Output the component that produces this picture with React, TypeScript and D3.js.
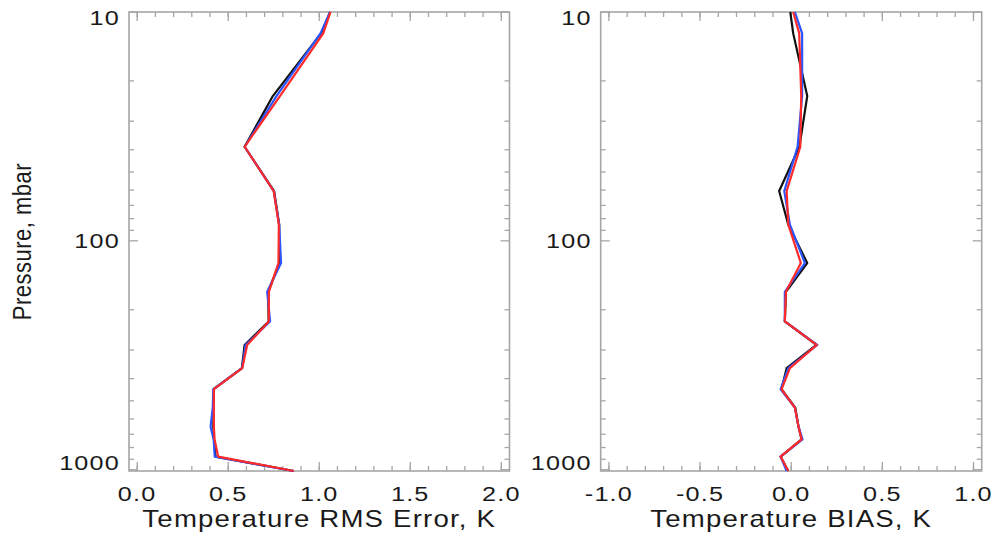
import React from "react";
import * as d3 from "d3";

// Pressure levels (mbar) of the retrieval profiles
const levels = [10, 12.4, 23.3, 38.8, 60.6, 85, 125, 167, 225, 285, 360, 445, 535, 648, 737, 877, 1013];

// Temperature RMS error (K)
const rmsBlack = [1.06, 1.01, 0.745, 0.59, 0.752, 0.78, 0.78, 0.72, 0.722, 0.59, 0.575, 0.42, 0.42, 0.418, 0.422, 0.43, 0.86];
const rmsBlue = [1.06, 1.007, 0.765, 0.59, 0.75, 0.78, 0.79, 0.714, 0.73, 0.595, 0.577, 0.418, 0.415, 0.403, 0.42, 0.426, 0.86];
const rmsRed = [1.062, 1.022, 0.784, 0.59, 0.75, 0.778, 0.776, 0.723, 0.723, 0.604, 0.577, 0.421, 0.421, 0.421, 0.425, 0.445, 0.86];

// Temperature bias (K)
const biasBlack = [-0.005, 0.011, 0.088, 0.045, -0.066, -0.016, 0.088, -0.029, -0.035, 0.138, -0.025, -0.053, 0.022, 0.04, 0.057, -0.058, -0.016];
const biasBlue = [0.02, 0.06, 0.06, 0.035, -0.038, -0.007, 0.075, -0.035, -0.035, 0.143, -0.016, -0.058, 0.02, 0.04, 0.062, -0.058, -0.025];
const biasRed = [0.011, 0.044, 0.055, 0.05, -0.025, -0.016, 0.053, -0.029, -0.035, 0.14, -0.007, -0.053, 0.02, 0.04, 0.057, -0.058, -0.016];

const rmsTicks = ["0.0", "0.5", "1.0", "1.5", "2.0"];
const biasTicks = ["-1.0", "-0.5", "0.0", "0.5", "1.0"];
const pressureTicks = ["10", "100", "1000"];

const seriesColors = ["#111111", "#2a55ff", "#ff2a2a"];

const W = 996;
const H = 534;
const TOP = 12;
const BOTTOM = 471;
const FONT = "'Liberation Sans', Arial, Helvetica, sans-serif";
const AXIS = "#a6a6a6";
const STRETCH = 1.2;

const y = d3.scaleLog().domain([10, 1013]).range([TOP, BOTTOM]);

function Label(props: { x: number; y: number; text: string; anchor: string; size: number; spacing: number; rotate?: boolean }) {
  const { x, y: yy, text, anchor, size, spacing, rotate } = props;
  return (
    <text
      transform={`translate(${x},${yy}) scale(${STRETCH},1)${rotate ? " rotate(-90)" : ""}`}
      textAnchor={anchor}
      fontFamily={FONT}
      fontSize={size}
      letterSpacing={spacing}
      fill="#1a1a1a"
    >
      {text}
    </text>
  );
}

function Panel(props: {
  left: number;
  right: number;
  domain: [number, number];
  ticks: string[];
  series: number[][];
  title: string;
  yTitle?: string;
}) {
  const { left, right, domain, ticks, series, title, yTitle } = props;
  const pad = (domain[1] - domain[0]) * 0.0225;
  const x = d3.scaleLinear().domain([domain[0] - pad, domain[1] + pad]).range([left, right]);

  const majors = ticks.map((t) => +t);
  const minors = d3.range(Math.round((domain[1] - domain[0]) / 0.1) + 1).map((i) => domain[0] + i * 0.1);
  const yMajors = pressureTicks.map((t) => +t);
  const yMinors = [20, 30, 40, 50, 60, 70, 80, 90, 200, 300, 400, 500, 600, 700, 800, 900];

  const line = (vals: number[]) =>
    d3
      .line<number>()
      .x((v) => x(v))
      .y((_, i) => y(levels[i]))(vals) || "";

  return (
    <g>
      {/* x ticks on bottom and top */}
      {minors.map((v, i) => (
        <g key={"xm" + i} stroke={AXIS} strokeWidth={1.3}>
          <line x1={x(v)} x2={x(v)} y1={BOTTOM} y2={BOTTOM - 5} />
          <line x1={x(v)} x2={x(v)} y1={TOP} y2={TOP + 5} />
        </g>
      ))}
      {majors.map((v, i) => (
        <g key={"xM" + i} stroke={AXIS} strokeWidth={1.3}>
          <line x1={x(v)} x2={x(v)} y1={BOTTOM} y2={BOTTOM - 9} />
          <line x1={x(v)} x2={x(v)} y1={TOP} y2={TOP + 9} />
        </g>
      ))}
      {/* y ticks on left and right */}
      {yMinors.map((p, i) => (
        <g key={"ym" + i} stroke={AXIS} strokeWidth={1.3}>
          <line x1={left} x2={left + 5} y1={y(p)} y2={y(p)} />
          <line x1={right} x2={right - 5} y1={y(p)} y2={y(p)} />
        </g>
      ))}
      {yMajors.map((p, i) => (
        <g key={"yM" + i} stroke={AXIS} strokeWidth={1.3}>
          <line x1={left} x2={left + 9} y1={y(p)} y2={y(p)} />
          <line x1={right} x2={right - 9} y1={y(p)} y2={y(p)} />
        </g>
      ))}
      <rect x={left} y={TOP} width={right - left} height={BOTTOM - TOP} fill="none" stroke={AXIS} strokeWidth={1.6} />

      {/* profiles */}
      {series.map((vals, i) => (
        <path key={"s" + i} d={line(vals)} fill="none" stroke={seriesColors[i]} strokeWidth={2.2} strokeLinejoin="round" />
      ))}

      {/* tick labels */}
      {ticks.map((t, i) => (
        <Label key={"xl" + i} x={x(majors[i])} y={BOTTOM + 30} text={t} anchor="middle" size={21} spacing={1} />
      ))}
      {pressureTicks.map((t, i) => {
        // keep the end labels inside the vertical extent of the frame
        const yy = Math.min(Math.max(y(yMajors[i]) + 7.5, TOP + 13), BOTTOM - 1);
        return <Label key={"yl" + i} x={left - 9} y={yy} text={t} anchor="end" size={21} spacing={1} />;
      })}

      {/* axis titles */}
      <Label x={(left + right) / 2} y={527} text={title} anchor="middle" size={23} spacing={1} />
      {yTitle && <Label x={31} y={(TOP + BOTTOM) / 2} text={yTitle} anchor="middle" size={22} spacing={0.5} rotate />}
    </g>
  );
}

export default function App() {
  return (
    <svg
      width={W}
      height={H}
      viewBox={`0 0 ${W} ${H}`}
      style={{ position: "absolute", left: 0, top: 0, background: "#fff" }}
    >
      <rect width={W} height={H} fill="#fff" />
      <Panel
        left={129}
        right={509.5}
        domain={[0, 2]}
        ticks={rmsTicks}
        series={[rmsBlack, rmsBlue, rmsRed]}
        title="Temperature RMS Error, K"
        yTitle="Pressure, mbar"
      />
      <Panel
        left={600.7}
        right={981.7}
        domain={[-1, 1]}
        ticks={biasTicks}
        series={[biasBlack, biasBlue, biasRed]}
        title="Temperature BIAS, K"
      />
    </svg>
  );
}
